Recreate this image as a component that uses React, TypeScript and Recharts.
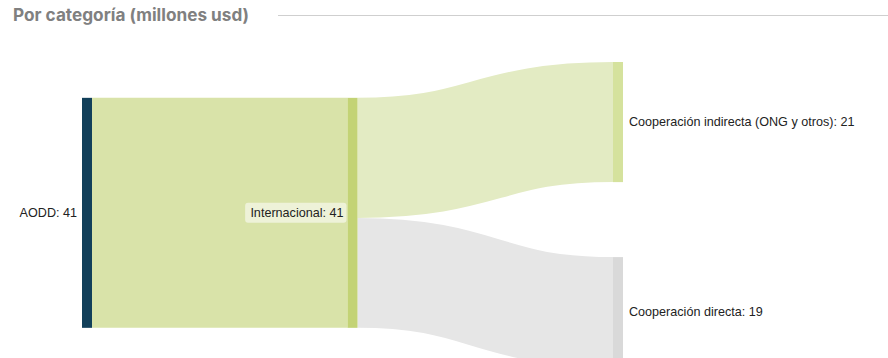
import React from 'react';
import { Sankey } from 'recharts';

// nodes and flows, millones usd
const nodeNames = ['AODD', 'Internacional', 'Cooperación indirecta (ONG y otros)', 'Cooperación directa'];
const linkSources = [0, 1, 1];
const linkTargets = [1, 2, 3];
const linkValues = [40.6, 21.2, 19.4];

const NODE_COLORS = ['#12405a', '#c3d375', '#d5e29d', '#d9d9d9'];
const LINK_COLORS = ['#d9e3a9', '#e3ebc3', '#e6e6e6'];

const data = {
    nodes: nodeNames.map(name => ({ name })),
    links: linkSources.map((s, i) => ({ source: s, target: linkTargets[i], value: linkValues[i] })),
};

const labelStyle: React.CSSProperties = { fontFamily: 'Arial, "Liberation Sans", sans-serif', fontSize: 12.6 };

const SankeyNode = (props: any) => {
    const { x, y, width, height, index, payload } = props;
    const label = `${payload.name}: ${Math.round(payload.value)}`;
    const cy = y + height / 2;
    const depth = payload.depth;
    const boxW = label.length * 5.55 + 7;
    return (
        <g>
            <rect x={x} y={y} width={width} height={height} fill={NODE_COLORS[index]} />
            {depth === 1 && (
                <rect x={x - 1 - boxW} y={cy - 10} width={boxW} height={20}
                    rx={3} fill="#ffffff" fillOpacity={0.55} />
            )}
            <text
                x={depth === 2 ? x + width + 6 : x - (depth === 1 ? 4 : 5)}
                y={cy}
                dy="0.35em"
                textAnchor={depth === 2 ? 'start' : 'end'}
                style={labelStyle}
                fill="#222"
            >
                {label}
            </text>
        </g>
    );
};

const SankeyLink = (props: any) => {
    const { sourceX, targetX, sourceY, targetY, sourceControlX, targetControlX, linkWidth, index } = props;
    return (
        <path
            d={`M${sourceX},${sourceY} C${sourceControlX},${sourceY} ${targetControlX},${targetY} ${targetX},${targetY}`}
            fill="none"
            stroke={LINK_COLORS[index]}
            strokeWidth={linkWidth}
        />
    );
};

export default function App() {
    return (
        <div style={{ position: 'absolute', left: 0, top: 0, width: 888, height: 358, overflow: 'hidden', background: '#fff' }}>
            <div style={{ position: 'absolute', left: 13, top: 4, fontFamily: 'Inter, sans-serif', fontWeight: 700, fontSize: 17.2, color: '#808080' }}>
                Por categoría (millones usd)
            </div>
            <div style={{ position: 'absolute', left: 278, top: 15, width: 610, height: 1, background: '#cfcfcf' }} />
            <div style={{ position: 'absolute', left: 0, top: 0 }}>
                <Sankey
                    width={888}
                    height={380}
                    data={data}
                    node={<SankeyNode />}
                    link={<SankeyLink />}
                    nodeWidth={10}
                    nodePadding={75}
                    margin={{ top: 62, right: 265, bottom: 13, left: 82 }}
                    iterations={32}
                />
            </div>
        </div>
    );
}
